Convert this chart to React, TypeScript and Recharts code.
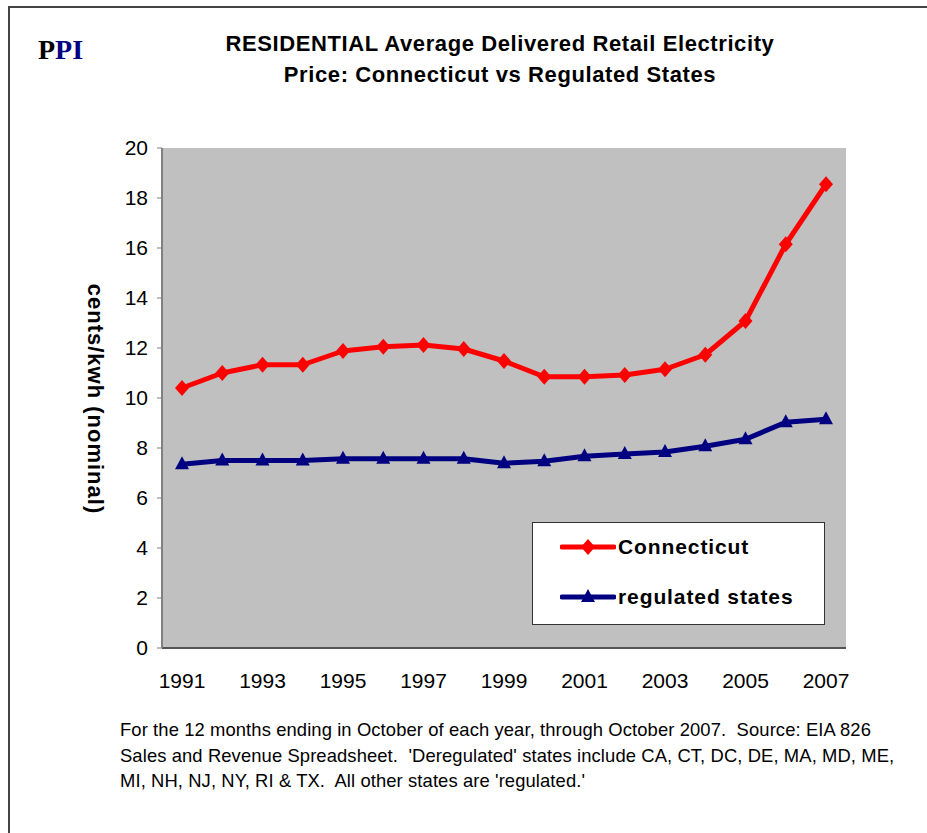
import React from 'react'
import { LineChart, Line, XAxis, YAxis, CartesianGrid, Legend } from 'recharts'

const years = ['1991', '1992', '1993', '1994', '1995', '1996', '1997', '1998', '1999', '2000', '2001', '2002', '2003', '2004', '2005', '2006', '2007']
const connecticut = [10.4, 11.0, 11.33, 11.33, 11.88, 12.05, 12.12, 11.96, 11.48, 10.85, 10.85, 10.92, 11.15, 11.73, 13.08, 16.15, 18.55]
const regulated = [7.35, 7.5, 7.5, 7.5, 7.57, 7.57, 7.57, 7.57, 7.39, 7.47, 7.67, 7.76, 7.84, 8.07, 8.35, 9.03, 9.15]
const yTicks = [0, 2, 4, 6, 8, 10, 12, 14, 16, 18, 20]

const RED = '#FF0000'
const NAVY = '#000080'
const FONT = '"Liberation Sans", Arial, sans-serif'

const rows = years.map((year, i) => ({ year, connecticut: connecticut[i], regulated: regulated[i] }))

const Diamond = ({ cx, cy, fill }: any) => {
  if (cx == null || cy == null) return null
  return <path d={`M${cx},${cy - 8} L${cx + 7},${cy} L${cx},${cy + 8} L${cx - 7},${cy} Z`} fill={fill} />
}

const Triangle = ({ cx, cy, fill }: any) => {
  if (cx == null || cy == null) return null
  return <path d={`M${cx},${cy - 8} L${cx + 7},${cy + 5} L${cx - 7},${cy + 5} Z`} fill={fill} />
}

const legendItems = [
  { label: 'Connecticut', color: RED, Marker: Diamond },
  { label: 'regulated states', color: NAVY, Marker: Triangle },
]

const LegendBox = () => (
  <div style={{ width: 293, height: 103, boxSizing: 'border-box', background: '#fff', border: '1px solid #333', paddingTop: 3, paddingLeft: 27 }}>
    {legendItems.map(({ label, color, Marker }) => (
      <div key={label} style={{ display: 'flex', alignItems: 'center', height: 42, marginBottom: 8 }}>
        <svg width={56} height={20}>
          <line x1={2} y1={10} x2={54} y2={10} stroke={color} strokeWidth={5} strokeLinecap="round" />
          <Marker cx={28} cy={10} fill={color} />
        </svg>
        <span style={{ fontFamily: FONT, fontWeight: 'bold', fontSize: 21, color: '#000', marginLeft: 2, letterSpacing: 0.9 }}>{label}</span>
      </div>
    ))}
  </div>
)

export default function App() {
  return (
    <div style={{ position: 'absolute', left: 0, top: 0, width: 927, height: 833, background: '#fff', overflow: 'hidden' }}>
      <div style={{ position: 'absolute', left: 8, top: 6, width: 940, height: 840, borderTop: '2px solid #444', borderLeft: '2px solid #444' }} />
      <div style={{ position: 'absolute', left: 38, top: 34, fontFamily: '"Liberation Serif", "Times New Roman", serif', fontWeight: 'bold', fontSize: 28, lineHeight: '32px' }}>
        <span style={{ color: '#000' }}>P</span><span style={{ color: NAVY }}>PI</span>
      </div>
      <div style={{ position: 'absolute', left: 150, width: 700, top: 28, textAlign: 'center', fontFamily: FONT, fontWeight: 'bold', fontSize: 22, letterSpacing: 0.6, lineHeight: '31px', color: '#000' }}>
        RESIDENTIAL Average Delivered Retail Electricity<br />Price: Connecticut vs Regulated States
      </div>
      <div style={{ position: 'absolute', left: 95, top: 399, width: 0, height: 0 }}>
        <div style={{ position: 'absolute', left: 0, top: 0, transform: 'translate(-50%, -50%) rotate(90deg)', whiteSpace: 'nowrap', fontFamily: FONT, fontWeight: 'bold', fontSize: 22, letterSpacing: 1, color: '#000' }}>
          cents/kwh (nominal)
        </div>
      </div>
      <div style={{ position: 'absolute', left: 0, top: 0 }}>
        <LineChart width={927} height={833} data={rows} margin={{ top: 148, right: 81, bottom: 155, left: 92 }}>
          <CartesianGrid fill="#C0C0C0" horizontal={false} vertical={false} />
          <XAxis dataKey="year" interval={1} tickLine={false} tickMargin={19} height={30}
            padding={{ left: 20, right: 20 }}
            axisLine={{ stroke: '#555', strokeWidth: 2 }}
            tick={{ fill: '#000', fontSize: 21, fontFamily: FONT }} />
          <XAxis xAxisId="top" orientation="top" dataKey="year" tick={false} tickLine={false} height={0}
            axisLine={{ stroke: '#808080', strokeWidth: 2 }} />
          <YAxis domain={[0, 20]} ticks={yTicks} interval={0} width={70} tickSize={5} tickMargin={9}
            axisLine={{ stroke: '#808080', strokeWidth: 2 }} tickLine={{ stroke: '#808080' }}
            tick={{ fill: '#000', fontSize: 21, fontFamily: FONT }} />
          <YAxis yAxisId="right" orientation="right" tick={false} tickLine={false} width={0}
            axisLine={{ stroke: '#808080', strokeWidth: 2 }} />
          <Legend layout="vertical" align="center" verticalAlign="middle" content={<LegendBox />}
            wrapperStyle={{ left: 532, top: 522, width: 293, height: 103 }} />
          <Line type="linear" dataKey="connecticut" name="Connecticut" stroke={RED} strokeWidth={5}
            strokeLinejoin="round" dot={<Diamond fill={RED} />} activeDot={false} isAnimationActive={false} />
          <Line type="linear" dataKey="regulated" name="regulated states" stroke={NAVY} strokeWidth={5}
            strokeLinejoin="round" dot={<Triangle fill={NAVY} />} activeDot={false} isAnimationActive={false} />
        </LineChart>
      </div>
      <div style={{ position: 'absolute', left: 120, top: 717, fontFamily: FONT, fontSize: 18.4, lineHeight: '25.5px', color: '#000', whiteSpace: 'nowrap', letterSpacing: 0.1 }}>
        <div>For the 12 months ending in October of each year, through October 2007.&nbsp; Source: EIA 826</div>
        <div>Sales and Revenue Spreadsheet.&nbsp; 'Deregulated' states include CA, CT, DC, DE, MA, MD, ME,</div>
        <div>MI, NH, NJ, NY, RI &amp; TX.&nbsp; All other states are 'regulated.'</div>
      </div>
    </div>
  )
}
